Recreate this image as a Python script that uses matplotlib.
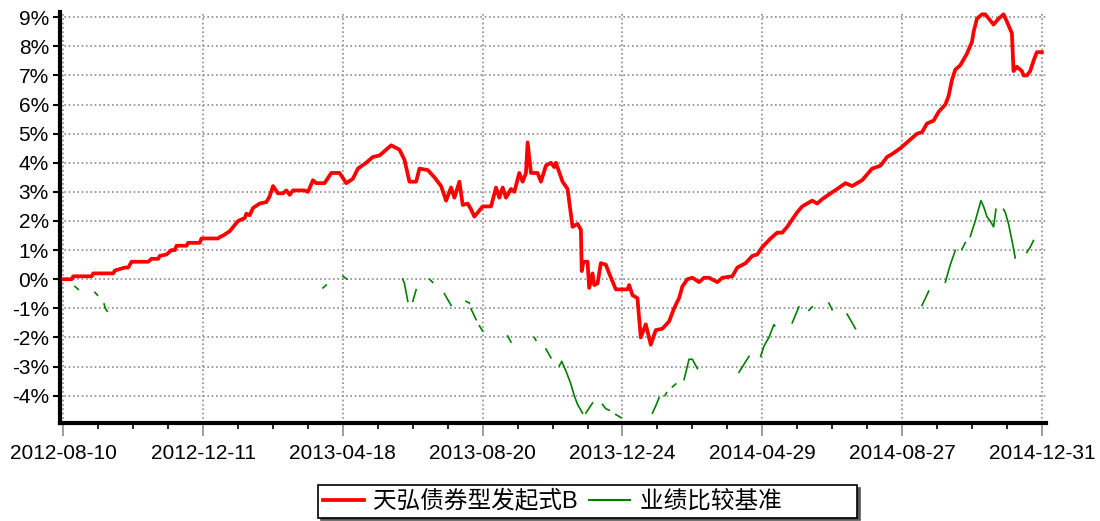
"""
天弘债券型发起式B vs 业绩比较基准 - cumulative return chart.
"""

import numpy as np
import matplotlib
matplotlib.use("Agg")
import matplotlib.pyplot as plt
from matplotlib.ticker import FuncFormatter, MultipleLocator

plt.rcParams["font.family"] = ["Liberation Sans", "Noto Sans CJK SC", "DejaVu Sans"]
plt.rcParams["axes.unicode_minus"] = False

# trading-day axis: 588 trading days, labelled every 84
TOTAL_DAYS = 588
DATE_LABELS = ["2012-08-10", "2012-12-11", "2013-04-18", "2013-08-20",
               "2013-12-24", "2014-04-29", "2014-08-27", "2014-12-31"]

# fund cumulative return (%)
FUND_DAYS = [0, 5, 6, 17, 18, 30, 31, 37, 39, 41, 51, 53, 57, 58, 62, 65, 67, 68, 74, 75,
             82, 83, 93, 94, 96, 100, 105, 109, 110, 112, 114, 118, 122, 124, 126, 129, 132, 134, 136, 138,
             145, 147, 150, 152, 157, 161, 166, 170, 174, 177, 182, 186, 190, 197, 202, 205, 208, 212, 214, 219,
             223, 227, 230, 233, 235, 238, 240, 243, 245, 247, 252, 257, 260, 262, 264, 266, 269, 271, 274, 276,
             278, 279, 281, 285, 287, 290, 293, 295, 296, 300, 303, 306, 309, 311, 311.5, 312.5, 315, 316, 318, 319,
             321, 323, 326, 328, 332, 339, 340, 342, 345, 347, 350, 353, 356, 360, 364, 367, 370, 372, 375, 378,
             382, 385, 388, 393, 396, 402, 405, 410, 414, 417, 420, 425, 429, 432, 435, 438, 441, 444, 450, 453,
             456, 461, 465, 470, 474, 477, 480, 486, 491, 495, 498, 503, 509, 513, 516, 519, 523, 526, 530, 532,
             534, 536, 539, 543, 546, 547, 549, 552, 554, 559, 562, 565, 567, 570, 571, 573, 576, 577, 579, 581,
             583, 585, 588]
FUND_RET = [0.0, 0.0, 0.1, 0.1, 0.2, 0.2, 0.3, 0.4, 0.4, 0.6, 0.6, 0.7, 0.7, 0.8, 0.85, 1.0, 1.0, 1.15, 1.15, 1.25,
            1.25, 1.4, 1.4, 1.45, 1.5, 1.65, 2.0, 2.1, 2.25, 2.2, 2.45, 2.6, 2.65, 2.85, 3.2, 2.95, 2.95, 3.05, 2.9, 3.05,
            3.05, 3.0, 3.4, 3.3, 3.3, 3.65, 3.65, 3.3, 3.45, 3.8, 4.0, 4.2, 4.25, 4.6, 4.45, 4.1, 3.35, 3.35, 3.8, 3.75,
            3.5, 3.2, 2.7, 3.15, 2.8, 3.35, 2.55, 2.6, 2.4, 2.15, 2.5, 2.5, 3.15, 2.8, 3.15, 2.8, 3.1, 3.0, 3.65, 3.35,
            3.65, 4.7, 3.65, 3.65, 3.35, 3.9, 4.0, 3.85, 4.0, 3.35, 3.1, 1.8, 1.9, 1.7, 0.28, 0.6, 0.6, -0.3, 0.2, -0.2,
            -0.15, 0.55, 0.5, 0.2, -0.35, -0.35, -0.2, -0.55, -0.65, -2.0, -1.55, -2.25, -1.75, -1.7, -1.45, -1.0, -0.65, -0.25, 0.0, 0.05,
            -0.1, 0.05, 0.05, -0.1, 0.05, 0.1, 0.4, 0.55, 0.8, 0.85, 1.1, 1.4, 1.6, 1.6, 1.8, 2.05, 2.3, 2.5, 2.7, 2.6,
            2.75, 2.95, 3.1, 3.3, 3.2, 3.3, 3.4, 3.8, 3.9, 4.2, 4.3, 4.5, 4.8, 5.0, 5.05, 5.35, 5.45, 5.75, 6.0, 6.3,
            6.85, 7.2, 7.35, 7.75, 8.15, 8.5, 8.95, 9.1, 9.1, 8.75, 8.95, 9.1, 8.85, 8.45, 7.15, 7.3, 7.15, 7.0, 7.0, 7.15,
            7.5, 7.8, 7.8]

# benchmark cumulative return (%), None = no data
BENCH_DAYS = [7, 9, None, 19, 20.5, None, 24.5, 25.2, 26.4, None, 156, 158, None, 168, 170.5, None,
              204, 205, 207, None, 210, 212, None, 220, 222, None, 229, 231, 233, None, 242, 244, None,
              245, 246.5, 248, None, 250, 252, None, 267, 269, None, 283, 284, None, 290, 291.5, 293, None,
              298, 299.5, 302, 303, 305, 307, 309, 312, None, 314, 318, None, 324, 326, 328, None, 332, 335, None,
              354, 356, 358, None, 361.5, 362.5, None, 366, 368, None, 373, 376, 378, 381, None, 406, 412, None,
              419, 421, 424, 427, 427.5, None, 438, 442, None, 448, 450, None, 460, 462, None, 471, 473.5, 476, None,
              516, 520, None, 530, 533, 536, None, 540, 542, None, 545, 548, 551.4, 553, 555, 557, 559, 560.4, None,
              565, 566, 568, 570.5, 572, None, 579, 581, 583]
BENCH_RET = [-0.25, -0.35, None, -0.45, -0.55, None, -0.85, -1.0, -1.1, None, -0.3, -0.2, None, 0.1, 0.0, None,
             0.0, -0.15, -0.76, None, -0.76, -0.36, None, 0.0, -0.11, None, -0.5, -0.7, -0.9, None, -0.76, -0.82, None,
             -1.02, -1.2, -1.39, None, -1.6, -1.78, None, -1.95, -2.16, None, -2.0, -2.1, None, -2.4, -2.55, -2.7, None,
             -2.98, -2.82, -3.15, -3.3, -3.6, -4.0, -4.3, -4.6, None, -4.6, -4.25, None, -4.3, -4.45, -4.5, None, -4.65, -4.75, None,
             -4.6, -4.35, -4.07, None, -4.0, -3.9, None, -3.7, -3.6, None, -3.45, -2.75, -2.75, -3.07, None, -3.2, -2.65, None,
             -2.65, -2.3, -2.0, -1.56, -1.6, None, -1.5, -0.95, None, -1.07, -0.95, None, -0.82, -1.05, None, -1.2, -1.45, -1.7, None,
             -0.9, -0.41, None, -0.1, 0.5, 0.99, None, 1.03, 1.26, None, 1.47, 2.0, 2.7, 2.5, 2.15, 2.0, 1.8, 2.4, None,
             2.4, 2.3, 1.9, 1.2, 0.73, None, 0.92, 1.1, 1.33]

RED = "#FF0000"
GREEN = "#008000"
GRID = "#8C8C8C"


def to_arr(vals):
    return np.array([np.nan if v is None else v for v in vals], dtype=float)


fig = plt.figure(figsize=(11, 5.21), dpi=100)
ax = fig.add_axes([60 / 1100, 1 - 423 / 521, (1046 - 60) / 1100, (423 - 12) / 521])

ax.plot(to_arr(BENCH_DAYS), to_arr(BENCH_RET), color=GREEN, linewidth=1.2, label="业绩比较基准\u3000\u3000\u3000", zorder=3)
ax.plot(FUND_DAYS, FUND_RET, color=RED, linewidth=2.7, label="天弘债券型发起式B", zorder=4,
        solid_joinstyle="round")

ax.set_xlim(-2, TOTAL_DAYS + 2.5)
ax.set_ylim(-4.94, 9.18)

major_pos = np.linspace(0, TOTAL_DAYS, len(DATE_LABELS))
ax.set_xticks(major_pos)
ax.set_xticklabels(DATE_LABELS, fontsize=15)
ax.xaxis.set_minor_locator(MultipleLocator(TOTAL_DAYS / 28))
ax.set_yticks(np.arange(-4, 10, 1))
ax.yaxis.set_major_formatter(FuncFormatter(lambda v, p: f"{v:.0f}%"))
ax.tick_params(axis="y", labelsize=15, length=5, width=1.5, color="black", pad=3)
ax.tick_params(axis="x", which="major", length=9, width=1.2, color=GRID, pad=6)
ax.tick_params(axis="x", which="minor", length=4, width=1.2, color="black")

ax.grid(True, which="major", color=GRID, linestyle=(0, (1, 1.6)), linewidth=1.2)
ax.set_axisbelow(True)

for side in ("top", "right"):
    ax.spines[side].set_visible(False)
for side in ("left", "bottom"):
    ax.spines[side].set_linewidth(3)
    ax.spines[side].set_color("black")

handles, labels = ax.get_legend_handles_labels()
leg = fig.legend(handles[::-1], labels[::-1], loc="upper left", bbox_to_anchor=(318 / 1100, 1 - 485 / 521),
                 ncol=2, fontsize=17, frameon=True, fancybox=False, shadow={"color": "0.35", "alpha": 1},
                 handlelength=1.75, handletextpad=0.4, columnspacing=0.45, borderpad=0.2, borderaxespad=0)
leg.get_frame().set_edgecolor("black")
leg.get_frame().set_linewidth(1.2)
for line in leg.get_lines():
    line.set_linewidth(2.7 if line.get_color() == RED else 1.5)

fig.savefig("out.png", dpi=100)
